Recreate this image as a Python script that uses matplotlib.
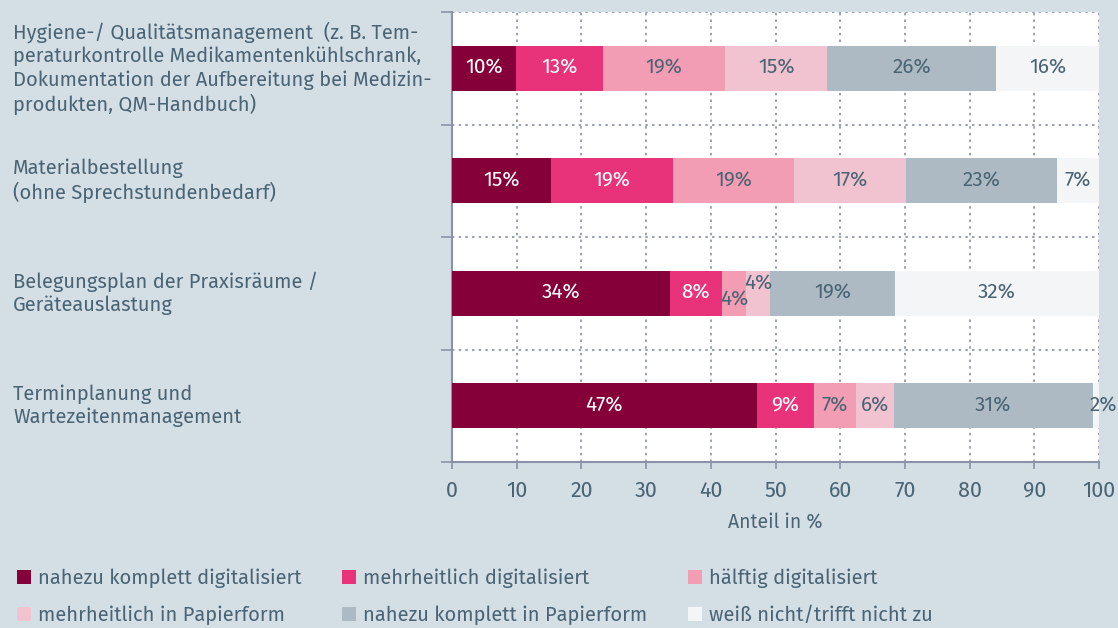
import matplotlib
matplotlib.use("Agg")
import matplotlib.pyplot as plt
from matplotlib.transforms import blended_transform_factory
from matplotlib.patches import Patch

plt.rcParams['font.family'] = ['Fira Sans', 'Open Sans', 'DejaVu Sans']

categories = [
    "Hygiene-/ Qualitätsmanagement  (z. B. Tem-\nperaturkontrolle Medikamentenkühlschrank,\nDokumentation der Aufbereitung bei Medizin-\nprodukten, QM-Handbuch)",
    "Materialbestellung\n(ohne Sprechstundenbedarf)",
    "Belegungsplan der Praxisräume /\nGeräteauslastung",
    "Terminplanung und\nWartezeitenmanagement",
]
series = ["nahezu komplett digitalisiert", "mehrheitlich digitalisiert", "hälftig digitalisiert",
          "mehrheitlich in Papierform", "nahezu komplett in Papierform", "weiß nicht/trifft nicht zu"]
values = [
    [9.9, 13.4, 18.9, 15.8, 26.1, 15.9],
    [15.3, 18.9, 18.7, 17.3, 23.3, 6.5],
    [33.7, 8.0, 3.8, 3.7, 19.3, 31.5],
    [47.1, 8.8, 6.6, 5.8, 30.7, 1.3],
]
labels = [
    ["10%", "13%", "19%", "15%", "26%", "16%"],
    ["15%", "19%", "19%", "17%", "23%", "7%"],
    ["34%", "8%", "4%", "4%", "19%", "32%"],
    ["47%", "9%", "7%", "6%", "31%", "2%"],
]
colors = ["#850038", "#e8327a", "#f29db4", "#f1c3d1", "#adbac3", "#f3f5f7"]
label_colors = ["white", "white", "#4a6474", "#4a6474", "#4a6474", "#4a6474"]
bg = "#d3dee5"
txt = "#4a6474"
grid_c = "#8a93a6"

fig = plt.figure(figsize=(11.18, 6.28), dpi=100, facecolor=bg)
ax = fig.add_axes([452/1118, 1-462/628, (1099-452)/1118, 450/628])
ax.set_facecolor("white")

for i, row in enumerate(values):
    left = 0
    for j, v in enumerate(row):
        ax.barh(i, v, left=left, height=0.4, color=colors[j], edgecolor="none", zorder=3)
        cx = left + v/2
        cy = i
        if i == 2 and j == 2:
            cy = i + 0.06
        if i == 2 and j == 3:
            cy = i - 0.08
        if i == 3 and j == 5:
            cx = left + 1.6
        ax.text(cx, cy, labels[i][j], ha="center", va="center", fontsize=15,
                color=label_colors[j], zorder=4, clip_on=False)
        left += v

ax.set_xlim(0, 100)
ax.set_ylim(3.5, -0.5)
ax.set_xticks(range(0, 101, 10))
ax.set_yticks([-0.5, 0.5, 1.5, 2.5, 3.5])
ax.set_yticklabels([])
ax.tick_params(axis="x", colors=grid_c, labelcolor=txt, labelsize=15.5, length=5, width=1.2, pad=8)
ax.tick_params(axis="y", colors=grid_c, length=8, width=1.2)
for x in range(10, 101, 10):
    ax.axvline(x, color=grid_c, linestyle=(0, (1.5, 2.5)), linewidth=1.2, zorder=1)
for y in [-0.5, 0.5, 1.5, 2.5]:
    ax.axhline(y, color=grid_c, linestyle=(0, (1.5, 2.5)), linewidth=1.2, zorder=1)
for s in ["top", "right"]:
    ax.spines[s].set_visible(False)
for s in ["left", "bottom"]:
    ax.spines[s].set_color(grid_c)
    ax.spines[s].set_linewidth(1.5)

ax.set_xlabel("Anteil in %", fontsize=14, color=txt, labelpad=8)

tr = blended_transform_factory(fig.transFigure, ax.transData)
for i, c in enumerate(categories):
    ax.text(13/1118, i, c, transform=tr, ha="left", va="center", fontsize=14.5,
            color=txt, linespacing=1.25)

handles = [Patch(facecolor=colors[j], edgecolor="none") for j in range(6)]
order = [0, 3, 1, 4, 2, 5]
leg = fig.legend([handles[k] for k in order], [series[k] for k in order], ncol=3,
                 loc="upper left", bbox_to_anchor=(9/1118, 1-560/628), frameon=False,
                 fontsize=14.5, handlelength=0.7, handleheight=0.7, handletextpad=0.35,
                 columnspacing=2.0, labelspacing=0.9, borderaxespad=0)
for t in leg.get_texts():
    t.set_color(txt)

fig.savefig("out.png", dpi=100, facecolor=bg)
